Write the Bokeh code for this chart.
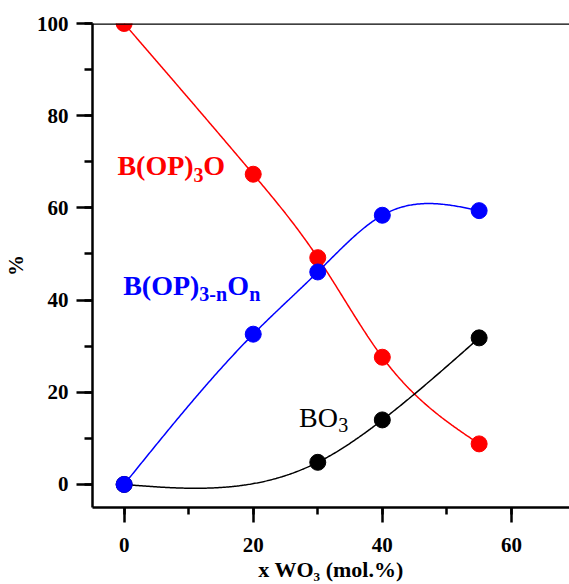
import numpy as np
from bokeh.plotting import figure
from bokeh.models import Range1d, SingleIntervalTicker, Span, Label
from bokeh.embed import file_html
from bokeh.resources import INLINE

# ---- data ----
x_bop3o = [0, 20, 30, 40, 55]
y_bop3o = [100, 67.3, 49.2, 27.6, 8.8]

x_bop3non = [0, 20, 30, 40, 55]
y_bop3non = [0, 32.6, 46.1, 58.4, 59.4]

x_bo3 = [0, 30, 40, 55]
y_bo3 = [0, 4.8, 14.0, 31.8]

x_ticks = [0, 20, 40, 60]
y_ticks = [0, 20, 40, 60, 80, 100]


def natural_spline(xs, ys, n=300):
    xs = np.asarray(xs, float)
    ys = np.asarray(ys, float)
    k = len(xs)
    h = np.diff(xs)
    A = np.zeros((k, k))
    r = np.zeros(k)
    A[0, 0] = 1
    A[-1, -1] = 1
    for i in range(1, k - 1):
        A[i, i - 1] = h[i - 1]
        A[i, i] = 2 * (h[i - 1] + h[i])
        A[i, i + 1] = h[i]
        r[i] = 6 * ((ys[i + 1] - ys[i]) / h[i] - (ys[i] - ys[i - 1]) / h[i - 1])
    M = np.linalg.solve(A, r)
    xx = np.linspace(xs[0], xs[-1], n)
    yy = np.empty_like(xx)
    for j, x in enumerate(xx):
        i = min(np.searchsorted(xs, x, side="right") - 1, k - 2)
        a = xs[i + 1] - x
        b = x - xs[i]
        hi = h[i]
        yy[j] = (M[i] * a ** 3 / (6 * hi) + M[i + 1] * b ** 3 / (6 * hi)
                 + (ys[i] / hi - M[i] * hi / 6) * a
                 + (ys[i + 1] / hi - M[i + 1] * hi / 6) * b)
    return xx, yy


p = figure(width=569, height=584, output_backend="svg", toolbar_location=None,
           x_range=Range1d(-4.9, 69.0), y_range=Range1d(-5.0, 100.0),
           min_border_left=91, min_border_top=23, min_border_right=0,
           min_border_bottom=77)
p.outline_line_color = None
p.grid.visible = False
p.background_fill_color = "white"
p.border_fill_color = "white"

for ax in (p.xaxis[0], p.yaxis[0]):
    ax.axis_line_width = 2.5
    ax.major_tick_line_width = 2.5
    ax.minor_tick_line_width = 2.5
    ax.major_tick_in = 0
    ax.minor_tick_in = 0
    ax.major_tick_out = 15
    ax.minor_tick_out = 7
    ax.major_label_text_font = "Liberation Serif"
    ax.major_label_text_font_style = "bold"
    ax.major_label_text_font_size = "21px"
    ax.major_label_text_color = "black"
    ax.axis_label_text_font = "Liberation Serif"
    ax.axis_label_text_font_style = "bold"
    ax.axis_label_text_font_size = "21px"
    ax.axis_label_text_color = "black"

p.xaxis[0].ticker = SingleIntervalTicker(interval=20, num_minor_ticks=2)
p.yaxis[0].ticker = SingleIntervalTicker(interval=20, num_minor_ticks=2)
p.xaxis[0].major_label_standoff = 15
p.yaxis[0].major_label_standoff = 8
p.xaxis[0].axis_label = "x WO\u2083 (mol.%)"
p.xaxis[0].axis_label_text_font_size = "22px"
p.yaxis[0].axis_label = "%"
p.xaxis[0].axis_label_standoff = 2
p.yaxis[0].axis_label_standoff = 6
p.yaxis[0].major_tick_out = 16
p.yaxis[0].minor_tick_out = 8

p.add_layout(Span(location=100, dimension="width", line_color="black", line_width=2.5))

series = [
    (x_bop3o, y_bop3o, "#ff0000"),
    (x_bo3, y_bo3, "#000000"),
    (x_bop3non, y_bop3non, "#0000ff"),
]
for xs, ys, c in series:
    sx, sy = natural_spline(xs, ys)
    p.line(sx, sy, line_color=c, line_width=1.5)
    p.scatter(xs, ys, size=16, fill_color=c, line_color=c)


def lab(x, y, t, c, size, bold=True):
    p.add_layout(Label(x=x, y=y, text=t, text_color=c, text_font="Liberation Serif",
                       text_font_size=size, text_font_style="bold" if bold else "normal",
                       text_align="left", text_baseline="alphabetic"))


red, blue = "#ff0000", "#0000ff"
lab(-1.04, 69.1, "B(OP)", red, "28px")
lab(10.74, 67.1, "3", red, "20px")
lab(12.26, 69.1, "O", red, "28px")

lab(-0.15, 43.1, "B(OP)", blue, "28px")
lab(11.64, 41.25, "3-n", blue, "20px")
lab(15.97, 43.1, "O", blue, "28px")
lab(19.37, 41.25, "n", blue, "20px")

lab(27.1, 14.5, "BO", "black", "28px", bold=False)
lab(33.17, 12.9, "3", "black", "20px", bold=False)

open("out.html", "w").write(file_html(p, INLINE))
